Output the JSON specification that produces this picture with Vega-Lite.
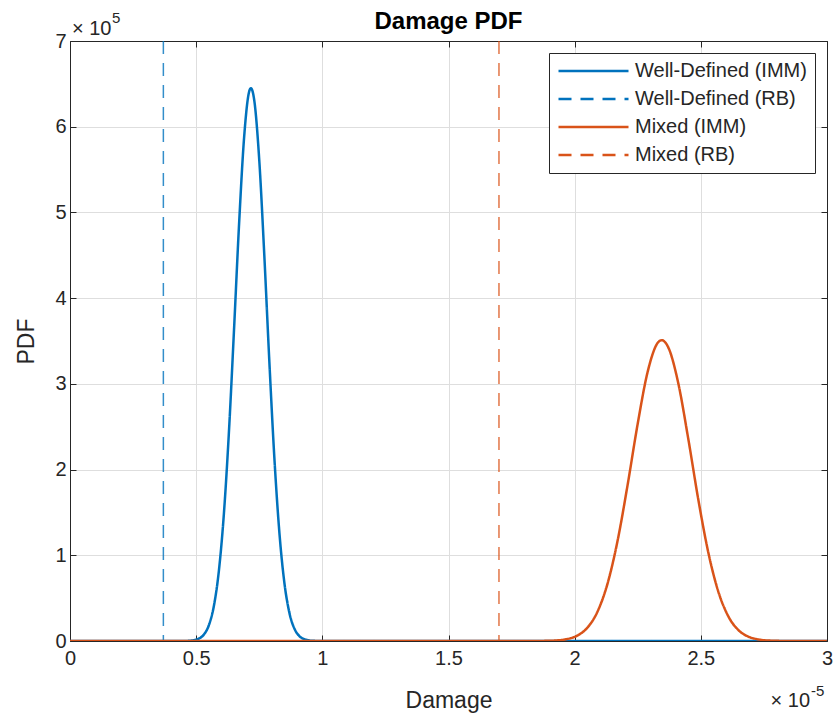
{
  "$schema": "https://vega.github.io/schema/vega-lite/v6.json",
  "width": 757,
  "height": 600,
  "autosize": {"type": "none"},
  "padding": {"left": 70, "top": 41, "right": 6, "bottom": 75},
  "background": "white",
  "title": {"text": "Damage PDF", "font": "Liberation Sans", "fontSize": 24, "fontWeight": "bold", "color": "#000000", "anchor": "middle", "offset": 14, "dy": 56, "baseline": "alphabetic"},
  "config": {
    "view": {"stroke": "#262626", "strokeWidth": 1},
    "legend": {
      "orient": "top-right", "offset": 12, "padding": 8, "title": null,
      "fillColor": "white", "strokeColor": "#262626",
      "labelFont": "Liberation Sans", "labelFontSize": 20, "labelColor": "#262626", "labelLimit": 400,
      "symbolType": "stroke", "symbolSize": 4900, "symbolStrokeWidth": 2.5, "clipHeight": 20, "rowPadding": 8, "labelOffset": 5
    }
  },
  "datasets": {
    "curves": [
      {"series": "Well-Defined (IMM)", "damage": 0, "pdf": 0},
      {"series": "Well-Defined (IMM)", "damage": 0.0000045, "pdf": 0},
      {"series": "Well-Defined (IMM)", "damage": 0.0000049, "pdf": 880},
      {"series": "Well-Defined (IMM)", "damage": 0.0000051, "pdf": 2680},
      {"series": "Well-Defined (IMM)", "damage": 0.0000053, "pdf": 7340},
      {"series": "Well-Defined (IMM)", "damage": 0.0000055, "pdf": 18160},
      {"series": "Well-Defined (IMM)", "damage": 0.0000057, "pdf": 40570},
      {"series": "Well-Defined (IMM)", "damage": 0.0000059, "pdf": 81850},
      {"series": "Well-Defined (IMM)", "damage": 0.0000061, "pdf": 149000},
      {"series": "Well-Defined (IMM)", "damage": 0.0000063, "pdf": 244800},
      {"series": "Well-Defined (IMM)", "damage": 0.0000065, "pdf": 363100},
      {"series": "Well-Defined (IMM)", "damage": 0.0000067, "pdf": 486100},
      {"series": "Well-Defined (IMM)", "damage": 0.0000069, "pdf": 587500},
      {"series": "Well-Defined (IMM)", "damage": 0.0000071, "pdf": 641000},
      {"series": "Well-Defined (IMM)", "damage": 0.00000717, "pdf": 645000},
      {"series": "Well-Defined (IMM)", "damage": 0.0000073, "pdf": 631200},
      {"series": "Well-Defined (IMM)", "damage": 0.0000075, "pdf": 561100},
      {"series": "Well-Defined (IMM)", "damage": 0.0000077, "pdf": 450200},
      {"series": "Well-Defined (IMM)", "damage": 0.0000079, "pdf": 326100},
      {"series": "Well-Defined (IMM)", "damage": 0.0000081, "pdf": 213200},
      {"series": "Well-Defined (IMM)", "damage": 0.0000083, "pdf": 125800},
      {"series": "Well-Defined (IMM)", "damage": 0.0000085, "pdf": 67000},
      {"series": "Well-Defined (IMM)", "damage": 0.0000087, "pdf": 32240},
      {"series": "Well-Defined (IMM)", "damage": 0.0000089, "pdf": 13990},
      {"series": "Well-Defined (IMM)", "damage": 0.0000091, "pdf": 5480},
      {"series": "Well-Defined (IMM)", "damage": 0.0000093, "pdf": 1940},
      {"series": "Well-Defined (IMM)", "damage": 0.0000095, "pdf": 620},
      {"series": "Well-Defined (IMM)", "damage": 0.0000097, "pdf": 170},
      {"series": "Well-Defined (IMM)", "damage": 0.00001, "pdf": 0},
      {"series": "Well-Defined (IMM)", "damage": 0.00003, "pdf": 0},
      {"series": "Mixed (IMM)", "damage": 0, "pdf": 0},
      {"series": "Mixed (IMM)", "damage": 0.000018, "pdf": 0},
      {"series": "Mixed (IMM)", "damage": 0.0000185, "pdf": 50},
      {"series": "Mixed (IMM)", "damage": 0.0000189, "pdf": 210},
      {"series": "Mixed (IMM)", "damage": 0.0000193, "pdf": 720},
      {"series": "Mixed (IMM)", "damage": 0.0000197, "pdf": 2250},
      {"series": "Mixed (IMM)", "damage": 0.0000201, "pdf": 6240},
      {"series": "Mixed (IMM)", "damage": 0.0000205, "pdf": 15420},
      {"series": "Mixed (IMM)", "damage": 0.0000209, "pdf": 33980},
      {"series": "Mixed (IMM)", "damage": 0.0000213, "pdf": 66700},
      {"series": "Mixed (IMM)", "damage": 0.0000217, "pdf": 116900},
      {"series": "Mixed (IMM)", "damage": 0.0000221, "pdf": 182400},
      {"series": "Mixed (IMM)", "damage": 0.0000225, "pdf": 253800},
      {"series": "Mixed (IMM)", "damage": 0.0000229, "pdf": 314900},
      {"series": "Mixed (IMM)", "damage": 0.0000233, "pdf": 348200},
      {"series": "Mixed (IMM)", "damage": 0.00002345, "pdf": 351000},
      {"series": "Mixed (IMM)", "damage": 0.0000237, "pdf": 343200},
      {"series": "Mixed (IMM)", "damage": 0.0000241, "pdf": 301600},
      {"series": "Mixed (IMM)", "damage": 0.0000245, "pdf": 236300},
      {"series": "Mixed (IMM)", "damage": 0.0000249, "pdf": 165000},
      {"series": "Mixed (IMM)", "damage": 0.0000253, "pdf": 102700},
      {"series": "Mixed (IMM)", "damage": 0.0000257, "pdf": 57000},
      {"series": "Mixed (IMM)", "damage": 0.0000261, "pdf": 28200},
      {"series": "Mixed (IMM)", "damage": 0.0000265, "pdf": 12430},
      {"series": "Mixed (IMM)", "damage": 0.0000269, "pdf": 4890},
      {"series": "Mixed (IMM)", "damage": 0.0000273, "pdf": 1710},
      {"series": "Mixed (IMM)", "damage": 0.0000277, "pdf": 530},
      {"series": "Mixed (IMM)", "damage": 0.0000281, "pdf": 150},
      {"series": "Mixed (IMM)", "damage": 0.0000285, "pdf": 40},
      {"series": "Mixed (IMM)", "damage": 0.000029, "pdf": 0},
      {"series": "Mixed (IMM)", "damage": 0.00003, "pdf": 0}
    ],
    "rb": [
      {"series": "Well-Defined (RB)", "damage": 0.0000037},
      {"series": "Mixed (RB)", "damage": 0.000017}
    ]
  },
  "resolve": {"axis": {"x": "independent", "y": "independent"}},
  "layer": [
    {
      "data": {"name": "curves"},
      "transform": [{"filter": "datum.series === 'Well-Defined (IMM)'"}],
      "mark": {"type": "line", "strokeWidth": 2.5, "interpolate": "monotone", "clip": true},
      "encoding": {
        "x": {"field": "damage", "type": "quantitative", "scale": {"domain": [0, 0.00003], "nice": false, "zero": false},
          "axis": {"orient": "bottom", "values": [0, 0.000005, 0.00001, 0.000015, 0.00002, 0.000025, 0.00003],
            "labelExpr": "format(datum.value*100000, '~g')", "title": "Damage",
            "grid": true, "gridColor": "#dedede", "gridWidth": 1,
            "tickSize": -6, "tickColor": "#262626", "domainColor": "#262626",
            "labelFont": "Liberation Sans", "labelFontSize": 20, "labelColor": "#262626", "labelPadding": 13, "labelBaseline": "top",
            "labelFlush": false, "labelOverlap": false,
            "titleFont": "Liberation Sans", "titleFontSize": 23, "titleFontWeight": "normal", "titleColor": "#262626",
            "titleBaseline": "alphabetic", "titleY": 66}},
        "y": {"field": "pdf", "type": "quantitative", "scale": {"domain": [0, 700000], "nice": false},
          "axis": {"orient": "left", "values": [0, 100000, 200000, 300000, 400000, 500000, 600000, 700000],
            "labelExpr": "format(datum.value/100000, 'd')", "title": "PDF",
            "grid": true, "gridColor": "#dedede", "gridWidth": 1,
            "tickSize": -6, "tickColor": "#262626", "domainColor": "#262626",
            "labelFont": "Liberation Sans", "labelFontSize": 20, "labelColor": "#262626", "labelPadding": 10,
            "labelFlush": false, "labelOverlap": false,
            "titleFont": "Liberation Sans", "titleFontSize": 23, "titleFontWeight": "normal", "titleColor": "#262626",
            "titleAngle": 270, "titleBaseline": "alphabetic", "titleAlign": "center", "titleX": -37, "titleY": 300}},
        "color": {"field": "series", "type": "nominal",
          "scale": {"domain": ["Well-Defined (IMM)", "Well-Defined (RB)", "Mixed (IMM)", "Mixed (RB)"], "range": ["#0072BD", "#0072BD", "#D95319", "#D95319"]}},
        "strokeDash": {"field": "series", "type": "nominal",
          "scale": {"domain": ["Well-Defined (IMM)", "Well-Defined (RB)", "Mixed (IMM)", "Mixed (RB)"], "range": [[1, 0], [13, 9], [1, 0], [13, 9]]}}
      }
    },
    {
      "data": {"name": "rb"},
      "mark": {"type": "rule", "strokeWidth": 1.5, "strokeOpacity": 0.8},
      "encoding": {
        "x": {"field": "damage", "type": "quantitative", "scale": {"domain": [0, 0.00003], "nice": false, "zero": false},
          "axis": {"orient": "top", "values": [0, 0.000005, 0.00001, 0.000015, 0.00002, 0.000025, 0.00003],
            "labels": false, "grid": false, "title": null, "tickSize": -6, "tickColor": "#262626", "domainColor": "#262626"}},
        "color": {"field": "series", "type": "nominal",
          "scale": {"domain": ["Well-Defined (IMM)", "Well-Defined (RB)", "Mixed (IMM)", "Mixed (RB)"], "range": ["#0072BD", "#0072BD", "#D95319", "#D95319"]}},
        "strokeDash": {"field": "series", "type": "nominal",
          "scale": {"domain": ["Well-Defined (IMM)", "Well-Defined (RB)", "Mixed (IMM)", "Mixed (RB)"], "range": [[1, 0], [13, 9], [1, 0], [13, 9]]}}
      }
    },
    {
      "data": {"name": "curves"},
      "transform": [{"filter": "datum.series === 'Mixed (IMM)'"}],
      "mark": {"type": "line", "strokeWidth": 2.5, "interpolate": "monotone", "clip": true},
      "encoding": {
        "x": {"field": "damage", "type": "quantitative", "scale": {"domain": [0, 0.00003], "nice": false, "zero": false}, "axis": null},
        "y": {"field": "pdf", "type": "quantitative", "scale": {"domain": [0, 700000], "nice": false},
          "axis": {"orient": "right", "values": [0, 100000, 200000, 300000, 400000, 500000, 600000, 700000],
            "labels": false, "grid": false, "title": null, "tickSize": -6, "tickColor": "#262626", "domainColor": "#262626"}},
        "color": {"field": "series", "type": "nominal",
          "scale": {"domain": ["Well-Defined (IMM)", "Well-Defined (RB)", "Mixed (IMM)", "Mixed (RB)"], "range": ["#0072BD", "#0072BD", "#D95319", "#D95319"]}},
        "strokeDash": {"field": "series", "type": "nominal",
          "scale": {"domain": ["Well-Defined (IMM)", "Well-Defined (RB)", "Mixed (IMM)", "Mixed (RB)"], "range": [[1, 0], [13, 9], [1, 0], [13, 9]]}}
      }
    },
    {
      "data": {"values": [{"t": "× 10"}]},
      "mark": {"type": "text", "font": "Liberation Sans", "fontSize": 20, "color": "#262626", "align": "left", "baseline": "alphabetic", "dx": 2, "dy": -6},
      "encoding": {
        "x": {"datum": 0, "type": "quantitative", "axis": null},
        "y": {"datum": 700000, "type": "quantitative", "axis": null},
        "text": {"field": "t"}
      }
    },
    {
      "data": {"values": [{"t": "5"}]},
      "mark": {"type": "text", "font": "Liberation Sans", "fontSize": 15, "color": "#262626", "align": "left", "baseline": "alphabetic", "dx": 42, "dy": -18},
      "encoding": {
        "x": {"datum": 0, "type": "quantitative", "axis": null},
        "y": {"datum": 700000, "type": "quantitative", "axis": null},
        "text": {"field": "t"}
      }
    },
    {
      "data": {"values": [{"t": "× 10"}]},
      "mark": {"type": "text", "font": "Liberation Sans", "fontSize": 20, "color": "#262626", "align": "right", "baseline": "alphabetic", "dx": -17, "dy": 66},
      "encoding": {
        "x": {"datum": 0.00003, "type": "quantitative", "axis": null},
        "y": {"datum": 0, "type": "quantitative", "axis": null},
        "text": {"field": "t"}
      }
    },
    {
      "data": {"values": [{"t": "-5"}]},
      "mark": {"type": "text", "font": "Liberation Sans", "fontSize": 15, "color": "#262626", "align": "left", "baseline": "alphabetic", "dx": -16, "dy": 55},
      "encoding": {
        "x": {"datum": 0.00003, "type": "quantitative", "axis": null},
        "y": {"datum": 0, "type": "quantitative", "axis": null},
        "text": {"field": "t"}
      }
    }
  ]
}
